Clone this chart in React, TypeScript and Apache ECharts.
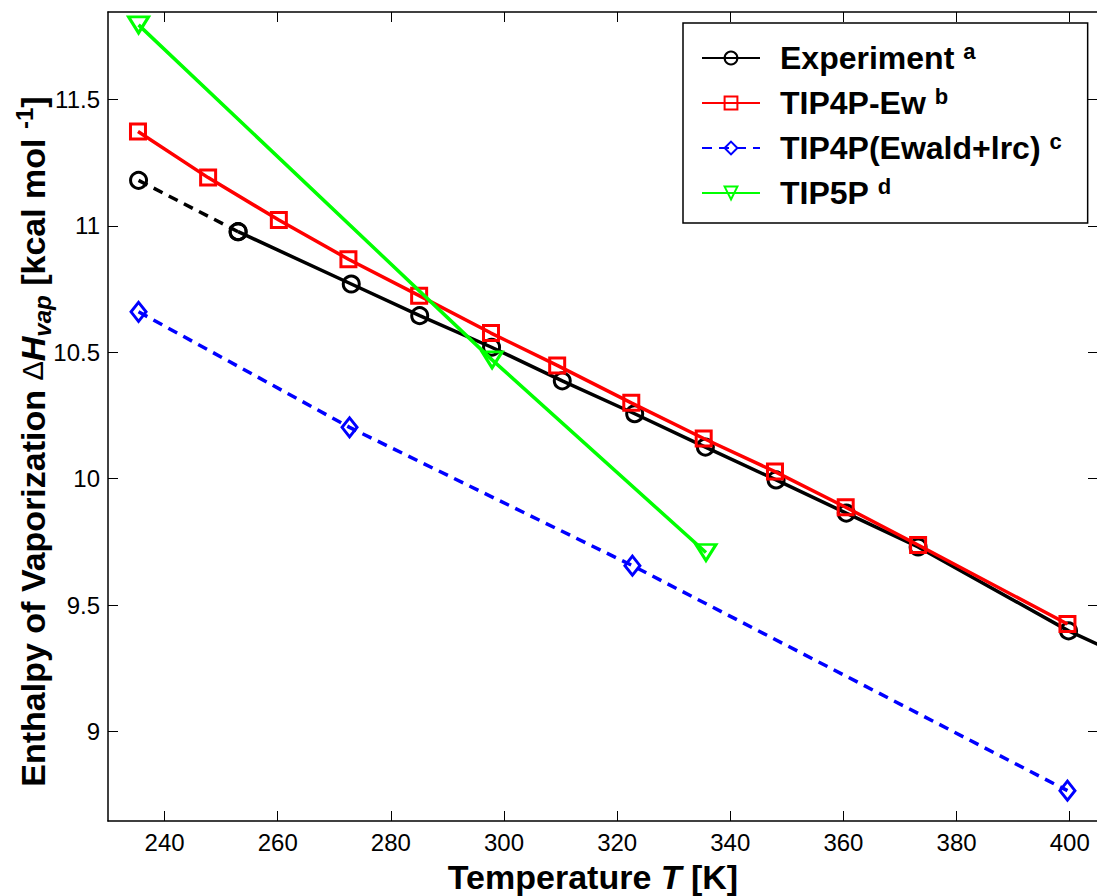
import React, { useEffect, useRef } from 'react';
import * as echarts from 'echarts';

// Temperatures [K] and enthalpies of vaporization [kcal/mol]
const expDashT = [235.4, 253.0];
const expDashH = [11.18, 10.977];
const expT = [253.0, 273.0, 285.1, 297.8, 310.3, 323.1, 335.6, 348.1, 360.5, 373.2, 399.8, 420.0];
const expH = [10.977, 10.77, 10.645, 10.52, 10.387, 10.257, 10.125, 9.995, 9.864, 9.73, 9.398, 9.19];
const ewT = [235.3, 247.7, 260.2, 272.5, 285.0, 297.7, 309.4, 322.5, 335.3, 347.9, 360.4, 373.2, 399.6];
const ewH = [11.373, 11.191, 11.023, 10.868, 10.724, 10.576, 10.448, 10.3, 10.159, 10.028, 9.887, 9.738, 9.425];
const lrcT = [235.4, 272.7, 322.7, 399.6];
const lrcH = [10.66, 10.203, 9.656, 8.766];
const t5T = [235.4, 297.9, 335.7];
const t5H = [11.795, 10.47, 9.708];

const xTicks = [240, 260, 280, 300, 320, 340, 360, 380, 400];
const yTicks = [9, 9.5, 10, 10.5, 11, 11.5];

const legendNames = ['Experiment', 'TIP4P-Ew', 'TIP4P(Ewald+lrc)', 'TIP5P'];
const legendSup: Record<string, string> = {
  'Experiment': 'a',
  'TIP4P-Ew': 'b',
  'TIP4P(Ewald+lrc)': 'c',
  'TIP5P': 'd',
};

const FONT = '"Liberation Sans", Arial, Helvetica, sans-serif';

const pairs = (xs: number[], ys: number[]) => xs.map((x, i) => [x, ys[i]]);

export default function App() {
  const ref = useRef<HTMLDivElement>(null);
  useEffect(() => {
    if (!ref.current) return;
    const chart = echarts.init(ref.current, undefined, { renderer: 'svg' });
    const axisLine = { show: true, onZero: false, lineStyle: { color: '#000', width: 1.5 } };
    const tickStyle = { color: '#000', width: 1 };
    const hollow = (c: string) => ({ color: 'rgba(0,0,0,0)', borderColor: c, borderWidth: 3 });
    const LW = 3.5;
    const option: any = {
      animation: false,
      backgroundColor: '#fff',
      grid: { left: 108, top: 12, width: 990, height: 809, containLabel: false, outerBoundsMode: 'none' },
      xAxis: [
        {
          type: 'value', min: 230, max: 405, position: 'bottom',
          axisLine,
          axisTick: { show: true, inside: true, length: 10, customValues: xTicks, lineStyle: tickStyle },
          axisLabel: { customValues: xTicks, fontSize: 24, color: '#000', margin: 9, fontFamily: FONT },
          splitLine: { show: false },
          name: 'Temperature {i|T} [K]',
          nameLocation: 'middle',
          nameGap: 39,
          nameTextStyle: {
            fontSize: 34, fontWeight: 'bold', color: '#000', fontFamily: FONT,
            padding: [0, 20, 0, 0],
            rich: { i: { fontSize: 34, fontWeight: 'bold', fontStyle: 'italic', color: '#000', fontFamily: FONT } },
          },
        },
        {
          type: 'value', min: 230, max: 405, position: 'top',
          axisLine,
          axisTick: { show: true, inside: true, length: 10, customValues: xTicks, lineStyle: tickStyle },
          axisLabel: { show: false },
          splitLine: { show: false },
        },
      ],
      yAxis: [
        {
          type: 'value', min: 8.646, max: 11.846, position: 'left',
          axisLine,
          axisTick: { show: true, inside: true, length: 10, customValues: yTicks, lineStyle: tickStyle },
          axisLabel: { customValues: yTicks, fontSize: 24, color: '#000', margin: 8, fontFamily: FONT },
          splitLine: { show: false },
          name: 'Enthalpy of Vaporization {d|Δ}{h|H}{s|vap} [kcal mol {p|-1}]',
          nameLocation: 'middle',
          nameRotate: 90,
          nameGap: 54,
          nameMoveOverlap: false,
          nameTextStyle: {
            fontSize: 34, fontWeight: 'bold', color: '#000', fontFamily: FONT, lineHeight: 42,
            padding: [0, 50, 0, 0],
            rich: {
              d: { fontSize: 29, fontWeight: 'normal', color: '#000', fontFamily: FONT, lineHeight: 42 },
              h: { fontSize: 34, fontWeight: 'bold', fontStyle: 'italic', color: '#000', fontFamily: FONT, lineHeight: 42 },
              s: { fontSize: 24, fontWeight: 'bold', fontStyle: 'italic', color: '#000', fontFamily: FONT, lineHeight: 24, verticalAlign: 'bottom' },
              p: { fontSize: 24, fontWeight: 'bold', color: '#000', fontFamily: FONT, lineHeight: 24, verticalAlign: 'top' },
            },
          },
        },
        {
          type: 'value', min: 8.646, max: 11.846, position: 'right',
          axisLine,
          axisTick: { show: true, inside: true, length: 10, customValues: yTicks, lineStyle: tickStyle },
          axisLabel: { show: false },
          splitLine: { show: false },
        },
      ],
      legend: {
        data: legendNames,
        orient: 'vertical',
        left: 683,
        top: 23,
        padding: [17, 26, 12, 18],
        itemGap: 9,
        itemWidth: 58,
        itemHeight: 16,
        backgroundColor: '#fff',
        borderColor: '#000',
        borderWidth: 1.5,
        borderRadius: 0,
        selectedMode: false,
        formatter: (name: string) => `${name} {sup|${legendSup[name]}}`,
        textStyle: {
          fontSize: 32, fontWeight: 'bold', color: '#000', fontFamily: FONT, lineHeight: 36,
          padding: [0, 0, 0, 15],
          rich: {
            sup: { fontSize: 22, fontWeight: 'bold', color: '#000', fontFamily: FONT, lineHeight: 16, verticalAlign: 'top' },
          },
        },
      },
      series: [
        {
          name: 'Experiment (extrapolated)', type: 'line', data: pairs(expDashT, expDashH),
          symbol: 'circle', symbolSize: 16, itemStyle: hollow('#000'),
          lineStyle: { color: '#000', width: LW, type: [10, 7] }, z: 2,
        },
        {
          name: 'Experiment', type: 'line', data: pairs(expT, expH),
          symbol: 'circle', symbolSize: 16, itemStyle: hollow('#000'),
          lineStyle: { color: '#000', width: LW }, z: 2,
        },
        {
          name: 'TIP4P-Ew', type: 'line', data: pairs(ewT, ewH),
          symbol: 'rect', symbolSize: 15, itemStyle: hollow('#ff0000'),
          lineStyle: { color: '#ff0000', width: LW }, z: 3,
        },
        {
          name: 'TIP4P(Ewald+lrc)', type: 'line', data: pairs(lrcT, lrcH),
          symbol: 'diamond', symbolSize: [15, 19], itemStyle: hollow('#0000ff'),
          lineStyle: { color: '#0000ff', width: LW, type: [10, 7] }, z: 4,
        },
        {
          name: 'TIP5P', type: 'line', data: pairs(t5T, t5H),
          symbol: 'triangle', symbolSize: [20, 16], symbolRotate: 180, itemStyle: hollow('#00ff00'),
          lineStyle: { color: '#00ff00', width: LW }, z: 5,
        },
      ],
    };
    chart.setOption(option);
    return () => chart.dispose();
  }, []);
  return <div ref={ref} style={{ position: 'fixed', left: 0, top: 0, width: 1100, height: 896 }} />;
}
